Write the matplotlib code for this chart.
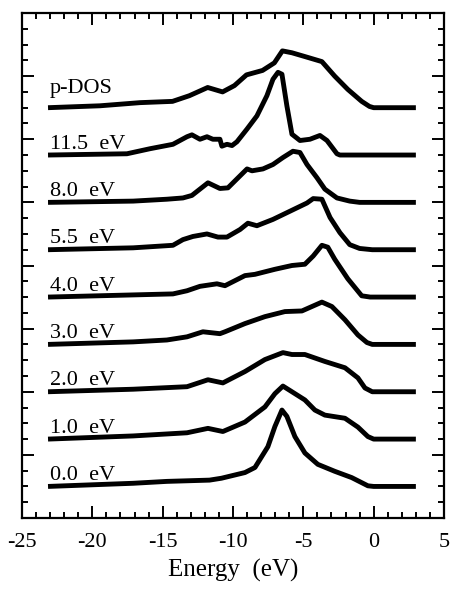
import matplotlib
matplotlib.use("Agg")
import matplotlib.pyplot as plt
from matplotlib.ticker import MultipleLocator

plt.rcParams["font.family"] = ["Liberation Serif", "DejaVu Serif"]
plt.rcParams["axes.unicode_minus"] = False

# spectra: energy (eV) and intensity (arb. units) above each baseline
LABELS = ["0.0  eV", "1.0  eV", "2.0  eV", "3.0  eV", "4.0  eV",
          "5.5  eV", "8.0  eV", "11.5  eV", "p-DOS"]
BASELINES = [0.5, 1.25, 2.0, 2.75, 3.5, 4.25, 5.0, 5.75, 6.5]

e_00 = [-23.15, -17.1, -14.7, -11.67, -10.82, -9.15, -8.44, -7.52, -7.02, -6.52,
        -6.17, -5.6, -4.89, -3.97, -2.77, -1.56, -0.41, 0, 3]
i_00 = [0, 0.05, 0.08, 0.10, 0.13, 0.22, 0.30, 0.63, 0.95, 1.21,
        1.11, 0.79, 0.53, 0.35, 0.24, 0.14, 0.01, 0, 0]

e_10 = [-23.15, -17.1, -13.27, -11.78, -10.72, -9.15, -7.73, -7.02, -6.45, -5.81,
        -4.89, -4.18, -3.47, -2.04, -1.12, -0.41, 0, 3]
i_10 = [0, 0.05, 0.10, 0.17, 0.12, 0.27, 0.51, 0.72, 0.84, 0.75,
        0.62, 0.46, 0.38, 0.33, 0.19, 0.04, 0, 0]

e_20 = [-23.15, -17.1, -13.27, -11.78, -10.72, -9.15, -7.73, -6.45, -5.81, -4.89,
        -3.47, -2.04, -1.12, -0.62, -0.1, 3]
i_20 = [0, 0.04, 0.08, 0.19, 0.14, 0.32, 0.51, 0.62, 0.59, 0.59,
        0.48, 0.38, 0.22, 0.06, 0, 0]

e_30 = [-23.15, -17.1, -14.7, -13.27, -12.14, -10.93, -10.57, -9.15, -7.73, -6.31,
        -5.1, -4.39, -3.68, -2.97, -2.04, -1.12, -0.48, -0.1, 3]
i_30 = [0, 0.04, 0.07, 0.12, 0.20, 0.17, 0.20, 0.33, 0.44, 0.52,
        0.53, 0.60, 0.67, 0.60, 0.39, 0.15, 0.03, 0, 0]

e_40 = [-23.15, -14.27, -13.27, -12.35, -11.14, -10.57, -9.15, -8.44, -7.02, -5.81,
        -4.89, -4.3, -3.68, -3.26, -2.77, -1.84, -0.85, -0.25, 3]
i_40 = [0, 0.05, 0.10, 0.17, 0.21, 0.18, 0.34, 0.36, 0.44, 0.50,
        0.52, 0.65, 0.82, 0.79, 0.60, 0.29, 0.02, 0, 0]

e_55 = [-23.15, -17.1, -14.27, -13.56, -12.85, -11.85, -11.07, -10.43, -9.5, -8.94,
        -8.3, -7.16, -5.95, -4.74, -4.3, -3.68, -3.1, -2.4, -1.7, -1.0, -0.1, 3]
i_55 = [0, 0.03, 0.07, 0.16, 0.21, 0.25, 0.20, 0.20, 0.32, 0.42,
        0.38, 0.48, 0.61, 0.74, 0.81, 0.80, 0.51, 0.27, 0.08, 0.02, 0, 0]

e_80 = [-23.15, -17.1, -14.7, -13.56, -12.92, -11.78, -10.93, -10.36, -9.5, -9.0,
        -8.65, -7.87, -7.16, -6.45, -5.74, -5.24, -4.74, -4.03, -3.47, -2.61,
        -1.7, -1.0, 3]
i_80 = [0, 0.02, 0.05, 0.07, 0.11, 0.31, 0.22, 0.23, 0.42, 0.53,
        0.50, 0.53, 0.60, 0.71, 0.81, 0.79, 0.60, 0.39, 0.21, 0.07,
        0.02, 0, 0]

e_115 = [-23.15, -17.54, -15.9, -14.27, -13.27, -12.92, -12.35, -11.85, -11.43, -10.93,
         -10.79, -10.43, -10.07, -9.72, -9.01, -8.3, -7.59, -7.16, -6.8, -6.52,
         -6.17, -5.81, -5.24, -4.53, -3.82, -3.32, -2.61, -2.4, 3]
i_115 = [0, 0.02, 0.10, 0.17, 0.29, 0.32, 0.25, 0.29, 0.25, 0.25,
         0.14, 0.17, 0.15, 0.21, 0.41, 0.62, 0.94, 1.20, 1.31, 1.28,
         0.78, 0.33, 0.23, 0.25, 0.31, 0.23, 0.02, 0, 0]

e_pdos = [-23.15, -19.46, -16.6, -14.3, -13.1, -11.8, -10.74, -9.9, -9.04, -7.9,
          -7.06, -6.49, -5.81, -4.89, -3.68, -2.77, -1.84, -0.85, -0.3, 0, 3]
i_pdos = [0, 0.03, 0.08, 0.10, 0.19, 0.32, 0.25, 0.35, 0.52, 0.59,
          0.71, 0.90, 0.87, 0.81, 0.73, 0.50, 0.29, 0.10, 0.02, 0, 0]

ENERGIES = [e_00, e_10, e_20, e_30, e_40, e_55, e_80, e_115, e_pdos]
INTENS = [i_00, i_10, i_20, i_30, i_40, i_55, i_80, i_115, i_pdos]


def main():
    fig = plt.figure(figsize=(4.5, 5.9), dpi=100)
    ax = fig.add_axes([22 / 450, 1 - 518 / 590, 422 / 450, 505 / 590])

    for e, inten, base, lab in zip(ENERGIES, INTENS, BASELINES, LABELS):
        ax.plot(e, [base + v for v in inten], color="black", lw=3.5,
                solid_joinstyle="round", solid_capstyle="butt")
        dy = 0.24 if lab == "p-DOS" else 0.1
        ax.text(-23.0, base + dy, lab, fontsize=16, va="baseline", ha="left")

    ax.set_xlim(-25, 5)
    ax.set_ylim(0, 8)
    ax.xaxis.set_major_locator(MultipleLocator(5))
    ax.xaxis.set_minor_locator(MultipleLocator(1))
    ax.yaxis.set_major_locator(MultipleLocator(1))
    ax.yaxis.set_minor_locator(MultipleLocator(0.25))
    ax.tick_params(which="both", direction="in", top=True, right=True, width=1.4)
    ax.tick_params(which="major", length=8.5)
    ax.tick_params(which="minor", length=4)
    ax.tick_params(axis="x", labelsize=16, pad=11)
    ax.tick_params(axis="y", labelleft=False)
    for s in ax.spines.values():
        s.set_linewidth(1.6)

    ax.set_xlabel("Energy  (eV)", fontsize=18, labelpad=5)
    fig.savefig("out.png", dpi=100)


if __name__ == "__main__":
    main()
